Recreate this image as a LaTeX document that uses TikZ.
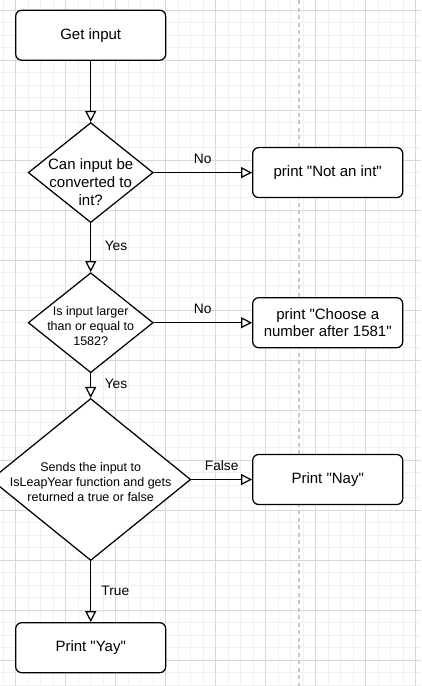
\documentclass[tikz,border=0pt]{standalone}
\usepackage{fontspec}
\setmainfont{Liberation Sans}
\usetikzlibrary{shapes.geometric,arrows.meta}
\definecolor{minorgrid}{RGB}{240,240,240}
\definecolor{majorgrid}{RGB}{216,216,216}
\definecolor{pagebreak}{RGB}{200,200,200}
\newcommand{\dq}{\textquotedbl}
\begin{document}
\begin{tikzpicture}[x=1pt,y=-1pt,
  box/.style={draw=black, line width=1.25pt, fill=white, rounded corners=6pt,
    minimum width=150pt, minimum height=50pt, inner sep=0pt, align=center,
    font=\fontsize{15}{17.5}\selectfont},
  dia/.style={draw=black, line width=1.25pt, fill=white, diamond, inner sep=0pt},
  diatext/.style={align=center, inner sep=0pt},
  bigtext/.style={font=\fontsize{15}{17.8}\selectfont},
  smalltext/.style={font=\fontsize{12.5}{15}\selectfont},
  lab/.style={inner sep=0pt, font=\fontsize{13.75}{16}\selectfont},
  arr/.style={line width=1.25pt, draw=black, -{Triangle[fill=white, length=11pt, width=11pt]}}
]
\useasboundingbox (0,0) rectangle (421,686);
\fill[white] (0,0) rectangle (421,686);
% grid
\foreach \x in {3.2,15.7,...,421} \draw[minorgrid, line width=1pt] (\x,0) -- (\x,686);
\foreach \y in {10.3,22.8,...,686} \draw[minorgrid, line width=1pt] (0,\y) -- (421,\y);
\foreach \x in {15.7,65.7,...,421} \draw[majorgrid, line width=1pt] (\x,0) -- (\x,686);
\foreach \y in {10.3,60.3,...,686} \draw[majorgrid, line width=1pt] (0,\y) -- (421,\y);
\draw[pagebreak, line width=1.6pt, dash pattern=on 4pt off 3.5pt] (299,0) -- (299,686);

% nodes
\node[box] (gi) at (90.7,35.2) {Get input};
\node[dia, minimum width=125pt, minimum height=100pt] (d1) at (90.7,172.6) {};
\node[diatext, bigtext] (t1) at (90.7,182.3) {Can input be\\converted to\\int?};
\node[box] (b1) at (327.7,172.6) {print \dq Not an int\dq};
\node[dia, minimum width=125pt, minimum height=100pt] (d2) at (90.7,322.7) {};
\node[diatext, smalltext] (t2) at (90.7,326.5) {Is input larger\\than or equal to\\1582?};
\node[box] (b2) at (327.7,322.7) {print \dq Choose a\\number after 1581\dq};
\node[dia, minimum width=200pt, minimum height=162pt] (d3) at (90.7,479.5) {};
\node[diatext, smalltext] (t3) at (90.7,482) {Sends the input to\\IsLeapYear function and gets\\returned a true or false};
\node[box] (b3) at (327.7,479.5) {Print \dq Nay\dq};
\node[box] (b4) at (90.7,647.7) {Print \dq Yay\dq};

% connectors
\draw[arr] (gi) -- (d1);
\draw[arr] (d1) -- (b1);
\draw[arr] (d1) -- (d2);
\draw[arr] (d2) -- (b2);
\draw[arr] (d2) -- (d3);
\draw[arr] (d3) -- (b3);
\draw[arr] (d3) -- (b4);

% labels
\node[lab] (l1) at (202.7,159.3) {No};
\node[lab] (l2) at (116,246) {Yes};
\node[lab] (l3) at (202.7,309.3) {No};
\node[lab] (l4) at (116,384) {Yes};
\node[lab] (l5) at (221.7,466) {False};
\node[lab] (l6) at (115.3,591) {True};
\end{tikzpicture}
\end{document}
